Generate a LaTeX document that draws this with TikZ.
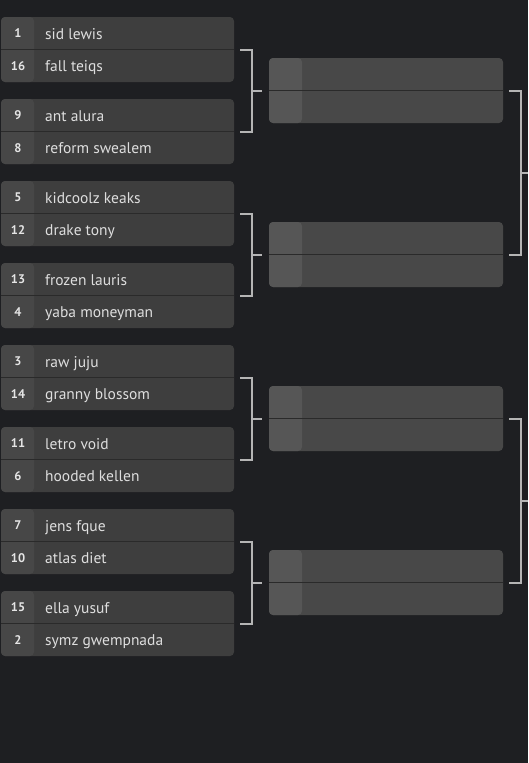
\documentclass[tikz,border=0pt]{standalone}
\usepackage{fontspec}
\setmainfont{PT Sans}
\usetikzlibrary{chains, calc}
\definecolor{pagebg}{HTML}{1E1F22}
\definecolor{slotone}{HTML}{3E3E3E}
\definecolor{seedone}{HTML}{474747}
\definecolor{slottwo}{HTML}{484848}
\definecolor{seedtwo}{HTML}{565656}
\definecolor{rule}{HTML}{2A2A2A}
\definecolor{bracketgray}{HTML}{B5B5B5}
\tikzset{
  roundone/.style={
    rectangle,
    rounded corners=4pt,
    minimum width=233pt,
    minimum height=65pt,
    inner sep=0pt,
    outer sep=0pt,
    fill=slotone,
    path picture={
      \fill[seedone] (path picture bounding box.north west)
        rectangle ([xshift=33pt]path picture bounding box.south west);
      \draw[rule, line width=1pt] (path picture bounding box.west)
        -- (path picture bounding box.east);
      }
    },
  roundtwo/.style={
    rectangle,
    rounded corners=4pt,
    minimum width=234pt,
    minimum height=65pt,
    inner sep=0pt,
    outer sep=0pt,
    fill=slottwo,
    path picture={
      \fill[seedtwo] (path picture bounding box.north west)
        rectangle ([xshift=33pt]path picture bounding box.south west);
      \draw[rule, line width=1pt] (path picture bounding box.west)
        -- (path picture bounding box.east);
      }
    },
  seed/.style={
    inner sep=0pt,
    text=white!90!black,
    font=\fontsize{12.5}{14}\selectfont\bfseries
    },
  player/.style={
    anchor=base west,
    inner sep=0pt,
    text=white!87!black,
    font=\fontsize{15.5}{17}\selectfont
    },
  bracket/.style={draw=bracketgray, line width=2pt},
}

\begin{document}
\begin{tikzpicture}[x=1pt, y=1pt]
\fill[pagebg] (0,0) rectangle (528,-763);
\useasboundingbox (0,0) rectangle (528,-763);

% first round
\begin{scope}[start chain=going below, node distance=17pt]
\node (m1) [roundone,on chain] at (117.5,-49.5) {};
\node (m2) [roundone,on chain] {};
\node (m3) [roundone,on chain] {};
\node (m4) [roundone,on chain] {};
\node (m5) [roundone,on chain] {};
\node (m6) [roundone,on chain] {};
\node (m7) [roundone,on chain] {};
\node (m8) [roundone,on chain] {};
\end{scope}

% second round
\begin{scope}[start chain=going below, node distance=99pt]
\node (r1) [roundtwo,on chain] at (386,-90.5) {};
\node (r2) [roundtwo,on chain] {};
\node (r3) [roundtwo,on chain] {};
\node (r4) [roundtwo,on chain] {};
\end{scope}

% seeds and players
\node (s1)  [seed]   at ([shift={(17,16.25)}]m1.west) {1};
\node (p1)  [player] at ([shift={(44,10.25)}]m1.west) {sid lewis};
\node (s16) [seed]   at ([shift={(17,-16.25)}]m1.west) {16};
\node (p16) [player] at ([shift={(44,-22.25)}]m1.west) {fall teiqs};
\node (s9)  [seed]   at ([shift={(17,16.25)}]m2.west) {9};
\node (p9)  [player] at ([shift={(44,10.25)}]m2.west) {ant alura};
\node (s8)  [seed]   at ([shift={(17,-16.25)}]m2.west) {8};
\node (p8)  [player] at ([shift={(44,-22.25)}]m2.west) {reform swealem};
\node (s5)  [seed]   at ([shift={(17,16.25)}]m3.west) {5};
\node (p5)  [player] at ([shift={(44,10.25)}]m3.west) {kidcoolz keaks};
\node (s12) [seed]   at ([shift={(17,-16.25)}]m3.west) {12};
\node (p12) [player] at ([shift={(44,-22.25)}]m3.west) {drake tony};
\node (s13) [seed]   at ([shift={(17,16.25)}]m4.west) {13};
\node (p13) [player] at ([shift={(44,10.25)}]m4.west) {frozen lauris};
\node (s4)  [seed]   at ([shift={(17,-16.25)}]m4.west) {4};
\node (p4)  [player] at ([shift={(44,-22.25)}]m4.west) {yaba moneyman};
\node (s3)  [seed]   at ([shift={(17,16.25)}]m5.west) {3};
\node (p3)  [player] at ([shift={(44,10.25)}]m5.west) {raw juju};
\node (s14) [seed]   at ([shift={(17,-16.25)}]m5.west) {14};
\node (p14) [player] at ([shift={(44,-22.25)}]m5.west) {granny blossom};
\node (s11) [seed]   at ([shift={(17,16.25)}]m6.west) {11};
\node (p11) [player] at ([shift={(44,10.25)}]m6.west) {letro void};
\node (s6)  [seed]   at ([shift={(17,-16.25)}]m6.west) {6};
\node (p6)  [player] at ([shift={(44,-22.25)}]m6.west) {hooded kellen};
\node (s7)  [seed]   at ([shift={(17,16.25)}]m7.west) {7};
\node (p7)  [player] at ([shift={(44,10.25)}]m7.west) {jens fque};
\node (s10) [seed]   at ([shift={(17,-16.25)}]m7.west) {10};
\node (p10) [player] at ([shift={(44,-22.25)}]m7.west) {atlas diet};
\node (s15) [seed]   at ([shift={(17,16.25)}]m8.west) {15};
\node (p15) [player] at ([shift={(44,10.25)}]m8.west) {ella yusuf};
\node (s2)  [seed]   at ([shift={(17,-16.25)}]m8.west) {2};
\node (p2)  [player] at ([shift={(44,-22.25)}]m8.west) {symz gwempnada};

% brackets into the second round
\draw[bracket] ([xshift=6]m1.east) -| ([xshift=18]m2.east) -- ([xshift=6]m2.east);
\draw[bracket] ([xshift=-17]r1.west) -- ([xshift=-7]r1.west);
\draw[bracket] ([xshift=6]m3.east) -| ([xshift=18]m4.east) -- ([xshift=6]m4.east);
\draw[bracket] ([xshift=-17]r2.west) -- ([xshift=-7]r2.west);
\draw[bracket] ([xshift=6]m5.east) -| ([xshift=18]m6.east) -- ([xshift=6]m6.east);
\draw[bracket] ([xshift=-17]r3.west) -- ([xshift=-7]r3.west);
\draw[bracket] ([xshift=6]m7.east) -| ([xshift=18]m8.east) -- ([xshift=6]m8.east);
\draw[bracket] ([xshift=-17]r4.west) -- ([xshift=-7]r4.west);

% brackets out of the second round
\coordinate (edge) at (528,0);
\coordinate (q1) at ([xshift=18]$(r1.east)!0.5!(r2.east)$);
\coordinate (q2) at ([xshift=18]$(r3.east)!0.5!(r4.east)$);
\draw[bracket] ([xshift=6]r1.east) -| ([xshift=18]r2.east) -- ([xshift=6]r2.east);
\draw[bracket] (q1) -- (q1 -| edge);
\draw[bracket] ([xshift=6]r3.east) -| ([xshift=18]r4.east) -- ([xshift=6]r4.east);
\draw[bracket] (q2) -- (q2 -| edge);
\end{tikzpicture}
\end{document}
